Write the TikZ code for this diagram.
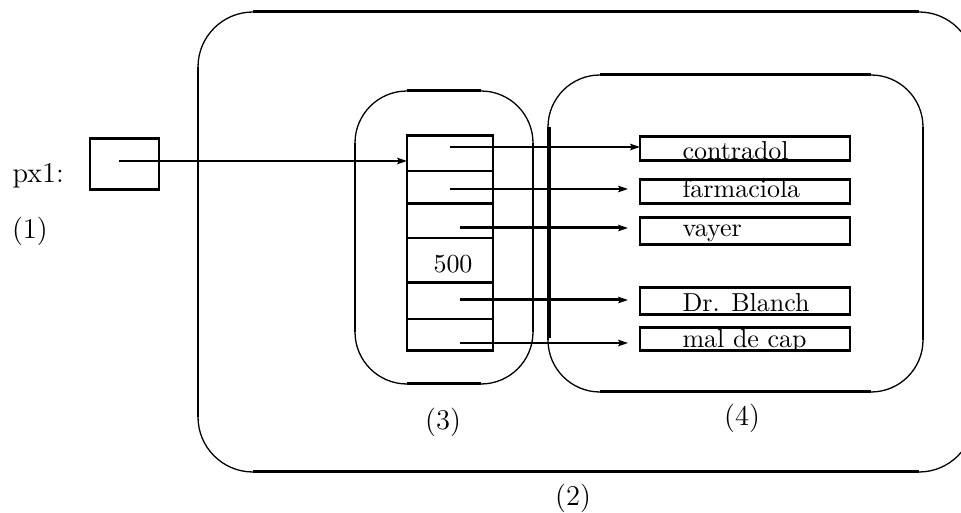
\documentclass[tikz,border=0pt]{standalone}
\usetikzlibrary{arrows.meta}
\begin{document}
\begin{tikzpicture}[x=0.385pt,y=-0.385pt,
  thinline/.style={line width=0.5pt},
  medline/.style={line width=0.75pt},
  thickline/.style={line width=1.15pt},
  ptr/.style={medline,-{Stealth[length=3.8pt,width=2.5pt,inset=0.7pt]}},
  ptrthick/.style={thickline,-{Stealth[length=3.8pt,width=2.5pt,inset=0.7pt]}},
  pxsize/.style 2 args={minimum width=#1*0.385pt,minimum height=#2*0.385pt},
  cell/.style={draw,medline,inner sep=0pt,outer sep=0pt,anchor=north west},
  strbox/.style={draw,thickline,inner sep=0pt,outer sep=0pt,anchor=north west,pxsize={210}{#1}},
  lbl/.style={font=\fontsize{11}{13}\selectfont,inner sep=0pt},
  txt/.style={anchor=base west,inner sep=0pt}]
\useasboundingbox (0,0) rectangle (961,513);
\clip (0,0) rectangle (961,513);

% enclosing regions: thin rounded outlines, heavier straight sides
\newcommand\regionbox[5]{%
  \draw[thinline,rounded corners=#5*0.385pt] (#1,#2) rectangle (#3,#4);
  \draw[thickline] (#1+#5,#2) -- (#3-#5,#2);
  \draw[thickline] (#1+#5,#4) -- (#3-#5,#4);
  \draw[medline] (#1,#2+#5) -- (#1,#4-#5);
  \draw[medline] (#3,#2+#5) -- (#3,#4-#5);}
\regionbox{198}{12}{974}{472}{55}
\regionbox{355}{91}{533}{384}{52}
\regionbox{548}{75}{923}{392}{52}

% separator between the table and the strings
\draw[thickline] (549.5,127) -- (549.5,338);

% pointer variable
\node[txt,lbl] (pxname) at (12,183) {px1:};
\node[draw,thickline,inner sep=0pt,outer sep=0pt,anchor=north west,pxsize={69}{51}] (p) at (90,139) {};
\node[lbl] (n1) at (30,231) {(1)};

% table of cells
\node[cell,pxsize={86}{35}] (c1) at (407,136) {};
\node[cell,pxsize={86}{33}] (c2) at (407,171) {};
\node[cell,pxsize={86}{34}] (c3) at (407,204) {};
\node[cell,pxsize={86}{45}] (c4) at (407,238) {};
\node[cell,pxsize={86}{36}] (c5) at (407,283) {};
\node[cell,pxsize={86}{32}] (c6) at (407,319) {};
\draw[thickline] (c1.north west) rectangle (c6.south east);
\draw[thickline] (c2.south west) -- (c2.south east);
\draw[thickline] (c4.south west) -- (c4.south east);
\node[txt] (v500) at (433,273) {500};

% strings
\node[strbox=24] (b1) at (640,137) {};
\node[strbox=24] (b2) at (640,180) {};
\node[strbox=27] (b3) at (640,218) {};
\node[strbox=27] (b4) at (640,288) {};
\node[strbox=23] (b5) at (640,328) {};
\node[txt] (t1) at (682,160) {contradol};
\node[txt] (t2) at (682,198) {farmaciola};
\node[txt] (t3) at (682,237) {vayer};
\node[txt] (t4) at (682,312) {Dr. Blanch};
\node[txt] (t5) at (682,348) {mal de cap};

% pointers
\coordinate (ps) at (119,161);
\draw[ptr] (ps) -- (ps -| c1.west);
\coordinate (s1) at (450,147);
\coordinate (s2) at (450,189);
\coordinate (s3) at (460,228);
\coordinate (s4) at (460,300);
\coordinate (s5) at (460,343);
\draw[ptr] (s1) -- (s1 -| b1.west);
\draw[ptr,shorten >=4.6pt] (s2) -- (s2 -| b2.west);
\draw[ptrthick,shorten >=4.6pt] (s3) -- (s3 -| b3.west);
\draw[ptrthick,shorten >=4.6pt] (s4) -- (s4 -| b4.west);
\draw[ptr,shorten >=4.6pt] (s5) -- (s5 -| b5.west);

% region labels
\node[lbl] (n3) at (443,422) {(3)};
\node[lbl] (n4) at (742,418) {(4)};
\node[lbl] (n2) at (573,498) {(2)};
\end{tikzpicture}
\end{document}
